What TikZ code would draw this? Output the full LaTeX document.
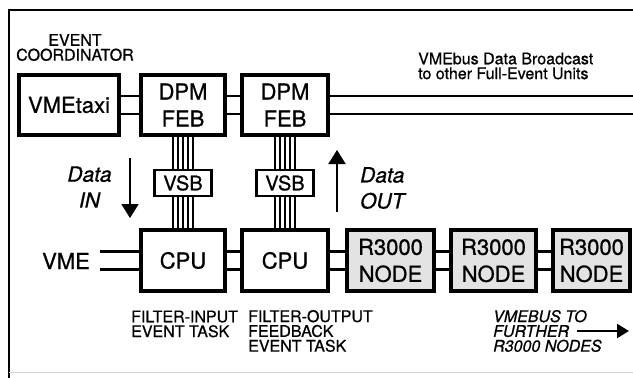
\documentclass[tikz,border=0pt]{standalone}
\usepackage{fontspec}
\setmainfont{TeX Gyre Heros}[FakeBold=0.8]
\usetikzlibrary{arrows.meta}

\newcommand{\dlink}[2]{%
  \draw[link] ([yshift=9pt]#1) -- ([yshift=9pt]#2);
  \draw[link] ([yshift=-9pt]#1) -- ([yshift=-9pt]#2);}
\newcommand{\vbus}[2]{%
  \foreach \dx in {-10,-5,0,5,10}
    \draw[bus] ([xshift=\dx pt]#1.south) -- ([xshift=\dx pt]#2.north);}

\begin{document}
\begin{tikzpicture}[x=1pt, y=-1pt,
  box/.style={draw, line width=4.5pt, inner sep=0pt, minimum height=60pt, align=center, font=\fontsize{22}{27}\selectfont},
  rnode/.style={box, fill=gray!22},
  vsbbox/.style={draw, line width=2.2pt, inner sep=0pt, minimum width=57pt, minimum height=26pt, font=\fontsize{20}{24}\selectfont},
  link/.style={line width=2.5pt},
  bus/.style={line width=1.2pt},
  note/.style={inner sep=0pt, align=left, font=\fontsize{16}{14.8}\selectfont},
  datalbl/.style={inner sep=0pt, font=\fontsize{21}{26}\selectfont\itshape},
  flow/.style={line width=2pt, -{Triangle[width=17pt,length=14pt]}}]
\useasboundingbox (0,0) rectangle (633,378);
\draw[line width=2.2pt] (9,378) -- (9,10) -- (633,10);
\draw[gray!35, line width=1pt] (9,372) -- (633,372);

\node[box, minimum width=100pt] (taxi) at (69,105) {VMEtaxi};
\node[box, minimum width=84pt] (dpm1) at (183,105) {DPM\\FEB};
\node[box, minimum width=86pt] (dpm2) at (285,105) {DPM\\FEB};
\node[vsbbox] (vsb1) at (183,183) {VSB};
\node[vsbbox] (vsb2) at (285,183) {VSB};
\node[box, minimum width=84pt, minimum height=61pt] (cpu1) at (183,260.5) {CPU};
\node[box, minimum width=86pt, minimum height=61pt] (cpu2) at (285,260.5) {CPU};
\node[rnode, minimum width=87pt, minimum height=61pt] (r1) at (390.5,260.5) {R3000\\NODE};
\node[rnode, minimum width=85pt, minimum height=61pt] (r2) at (493.5,260.5) {R3000\\NODE};
\node[rnode, minimum width=77pt, minimum height=61pt] (r3) at (591.5,260.5) {R3000\\NODE};

\node[inner sep=0pt, font=\fontsize{22}{27}\selectfont] (vme) at (66,261) {VME};
\coordinate (vmeL) at (100,260.5);
\coordinate (bcast) at (633,105);

\node[note, align=center] (coord) at (75,47.5) {EVENT\\COORDINATOR};
\node[note, anchor=west] (bclbl) at (418,66) {VMEbus Data Broadcast\\to other Full-Event Units};
\node[note, anchor=west] (in1) at (131,324) {FILTER-INPUT\\EVENT TASK};
\node[note, anchor=west] (out1) at (248,331) {FILTER-OUTPUT\\FEEDBACK\\EVENT TASK};
\node[note, anchor=west, font=\fontsize{16}{14.8}\selectfont\itshape] (further) at (493,331) {VMEBUS TO\\FURTHER\\R3000 NODES};

\node[datalbl, align=center] (din) at (89.5,187) {Data\\IN};
\node[datalbl, align=left, anchor=west] (dout) at (360,188) {Data\\OUT};

\dlink{taxi.east}{dpm1.west}
\dlink{dpm1.east}{dpm2.west}
\dlink{dpm2.east}{bcast}
\dlink{vmeL}{cpu1.west}
\dlink{cpu1.east}{cpu2.west}
\dlink{cpu2.east}{r1.west}
\dlink{r1.east}{r2.west}
\dlink{r2.east}{r3.west}

\vbus{dpm1}{vsb1}
\vbus{vsb1}{cpu1}
\vbus{dpm2}{vsb2}
\vbus{vsb2}{cpu2}

\coordinate (inA) at (130,158);
\coordinate (inB) at (130,218);
\coordinate (outA) at (337,212);
\coordinate (outB) at (337,150);
\coordinate (furA) at (577,331);
\coordinate (furB) at (629,331);
\draw[flow] (inA) -- (inB);
\draw[flow] (outA) -- (outB);
\draw[flow, line width=2.2pt, -{Triangle[width=14pt,length=12pt]}] (furA) -- (furB);
\end{tikzpicture}
\end{document}
